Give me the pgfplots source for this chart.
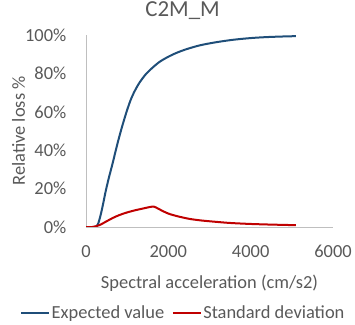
\documentclass[border=0pt]{standalone}
\usepackage{fontspec}
\setmainfont{Carlito}
\usepackage{pgfplots}
\pgfplotsset{compat=1.18}
\definecolor{txtgray}{HTML}{595959}
\definecolor{axgray}{HTML}{BFBFBF}
\definecolor{evblue}{HTML}{1F4E79}
\definecolor{sdred}{HTML}{C00000}
\begin{document}
\begin{tikzpicture}
\useasboundingbox (0,0) rectangle (355bp,325bp);
\begin{axis}[
  at={(86bp,98bp)}, anchor=south west,
  width=247bp, height=192bp, scale only axis,
  xmin=0, xmax=6000, ymin=0, ymax=100,
  enlargelimits=false,
  axis x line=bottom, axis y line=left,
  axis line style={-, draw=axgray, line width=0.8bp},
  major tick length=0pt,
  xtick={0,2000,4000,6000},
  ytick={0,20,40,60,80,100},
  yticklabel={\pgfmathprintnumber{\tick}\%},
  /pgf/number format/1000 sep={},
  /pgf/number format/assume math mode=true,
  tick label style={font=\fontsize{18.5}{22}\selectfont, text=txtgray},
  xticklabel style={anchor=base, inner sep=0pt, yshift=-30bp},
  yticklabel style={anchor=east, inner sep=0pt, xshift=-19.5bp},
  title={C2M\_M},
  title style={at={(axis description cs:0.391,1)}, anchor=base, yshift=12.3bp, inner sep=0pt, font=\fontsize{23}{27}\selectfont, text=txtgray},
  xlabel={Spectral acceleration (cm/s2)},
  xlabel style={at={(axis description cs:0.5,0)}, anchor=base, yshift=-61bp, inner sep=0pt, font=\fontsize{18.5}{22}\selectfont, text=txtgray},
  ylabel={Relative loss \%},
  ylabel style={at={(axis description cs:-0.247,0.5)}, anchor=base, rotate=0, inner sep=0pt, font=\fontsize{18.5}{22}\selectfont, text=txtgray},
  legend columns=2,
  legend style={draw=none, fill=none, at={(axis description cs:0.393,-0.495)}, anchor=south, inner sep=0pt, font=\fontsize{18.5}{22}\selectfont, text=txtgray, /tikz/every even column/.append style={column sep=6bp}, nodes={inner sep=1.5bp}},
  legend image code/.code={\draw[#1] (0bp,0bp) -- (28bp,0bp);},
]
\addplot[evblue, line width=2bp, smooth] coordinates {
(0,0) (200,0) (250,0.3) (300,2) (364,7) (420,12.5) (485,19.3) (560,26) (647,33.2) (730,40.5) (808,47) (900,54) (1000,61) (1100,67) (1200,71.5) (1300,75.2) (1450,79.5) (1617,83) (1800,86.2) (2019,88.9) (2200,90.7) (2424,92.5) (2764,94.6) (3151,96.2) (3570,97.5) (4000,98.4) (4380,98.9) (4750,99.2) (5100,99.4)
};
\addlegendentry{Expected value}
\addplot[sdred, line width=2bp, smooth] coordinates {
(0,0) (150,0) (242,0.4) (350,1.2) (485,2.8) (650,4.7) (808,6.2) (1000,7.6) (1212,8.8) (1400,9.7) (1550,10.4) (1650,10.6) (1750,9.6) (1874,8.2) (2000,7.0) (2116,6.2) (2300,5.2) (2521,4.2) (2800,3.4) (3151,2.7) (3500,2.1) (3976,1.6) (4500,1.25) (5100,0.95)
};
\addlegendentry{Standard deviation}
\end{axis}
\end{tikzpicture}
\end{document}
